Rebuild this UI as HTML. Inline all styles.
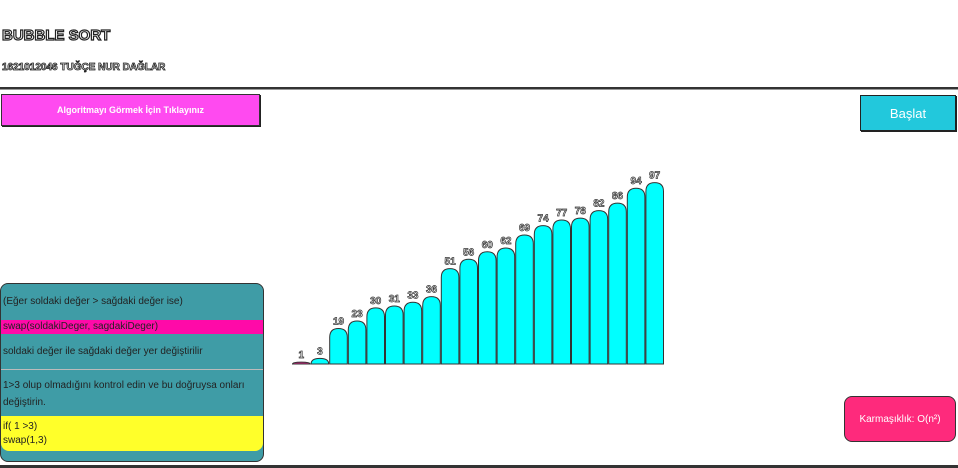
<!DOCTYPE html>
<html><head><meta charset="utf-8">
<style>
body{margin:0;width:958px;height:468px;background:#fff;position:relative;overflow:hidden;font-family:"Liberation Sans",sans-serif}
.abs{position:absolute}
.title{font-weight:bold;color:#fff;-webkit-text-stroke:1px #222;}
</style></head><body>
<div class="abs title" style="left:2px;top:27px;font-size:15px;-webkit-text-stroke:1.2px #222">BUBBLE SORT</div>
<div class="abs title" style="left:2px;top:62px;font-size:10px;-webkit-text-stroke:0.8px #222">1621012046 TUĞÇE NUR DAĞLAR</div>
<div class="abs" style="left:0;top:87px;width:958px;height:2px;background:#333;border-bottom:1px solid #999"></div>
<div class="abs" style="left:1px;top:94px;width:257px;height:30px;background:#ff4af0;border:1px solid #333;box-shadow:1px 1px 0 #222;color:#fff;font-size:9px;font-weight:bold;display:flex;align-items:center;justify-content:center">Algoritmayı Görmek İçin Tıklayınız</div>
<div class="abs" style="left:860px;top:95px;width:94px;height:34px;background:#22c8dc;border:1px solid #222;box-shadow:1px 1px 0 #222;color:#fff;font-size:13px;display:flex;align-items:center;justify-content:center">Başlat</div>
<div class="abs" style="left:844px;top:396px;width:110px;height:44px;background:#fe2a7c;border:1px solid #333;border-radius:8px;color:#fff;font-size:10px;display:flex;align-items:center;justify-content:center">Karmaşıklık: O(n²)</div>
<div class="abs" style="left:0;top:283px;width:262px;height:177px;background:#3f9ca6;border:1px solid #333;border-radius:8px;overflow:hidden;font-size:10px;color:#222">
 <div class="abs" style="left:2px;top:12px">(Eğer soldaki değer &gt; sağdaki değer ise)</div>
 <div class="abs" style="left:0;top:36px;width:262px;height:14px;background:#ff0aa8;line-height:14px;padding-left:2px">swap(soldakiDeger, sagdakiDeger)</div>
 <div class="abs" style="left:2px;top:62px">soldaki değer ile sağdaki değer yer değiştirilir</div>
 <div class="abs" style="left:0;top:85px;width:262px;height:1px;background:#bbb"></div>
 <div class="abs" style="left:2px;top:93px;line-height:17px">1&gt;3 olup olmadığını kontrol edin ve bu doğruysa onları<br>değiştirin.</div>
 <div class="abs" style="left:0;top:132px;width:262px;height:35px;background:#ffff2a;border-radius:0 0 8px 8px;line-height:14px;padding:4px 2px;box-sizing:border-box">if( 1 &gt;3)<br>swap(1,3)</div>
</div>
<div class="abs" style="left:0;top:465px;width:958px;height:3px;background:#333"></div>
<svg class="abs" style="left:0;top:0" width="958" height="468" id="chart"></svg>
<script>
const values=[1,3,19,23,30,31,33,36,51,56,60,62,69,74,77,78,82,86,94,97];
const labels=values.map(String);
const x0=292,bw=18.6,base=364,scale=1.87;
const svg=document.getElementById('chart');
const NS='http://www.w3.org/2000/svg';
function xs(i){return x0+i*bw;}
function ys(v){return base-v*scale;}
values.forEach((v,i)=>{
 const x=xs(i)+0.5,w=bw-1,top=ys(v),h=base-top;
 const r=Math.min(w/2,h);
 const p=document.createElementNS(NS,'path');
 
 
 p.setAttribute('d',`M${x},${base}V${top+r}Q${x},${top} ${x+w/2},${top}Q${x+w},${top} ${x+w},${top+r}V${base}Z`);
 p.setAttribute('fill',i===0?'#e0208a':'#00ffff');
 p.setAttribute('stroke','#333');p.setAttribute('stroke-width','1');
 svg.appendChild(p);
 const t=document.createElementNS(NS,'text');
 
 
 t.setAttribute('x',xs(i)+bw/2);t.setAttribute('y',top-4);
 t.setAttribute('text-anchor','middle');t.setAttribute('font-size','10');t.setAttribute('font-weight','bold');
 t.setAttribute('fill','#fff');t.setAttribute('stroke','#333');t.setAttribute('stroke-width','0.7');
 t.setAttribute('font-family','Liberation Sans, sans-serif');
 t.textContent=labels[i];
 svg.appendChild(t);
});
</script>
</body></html>
